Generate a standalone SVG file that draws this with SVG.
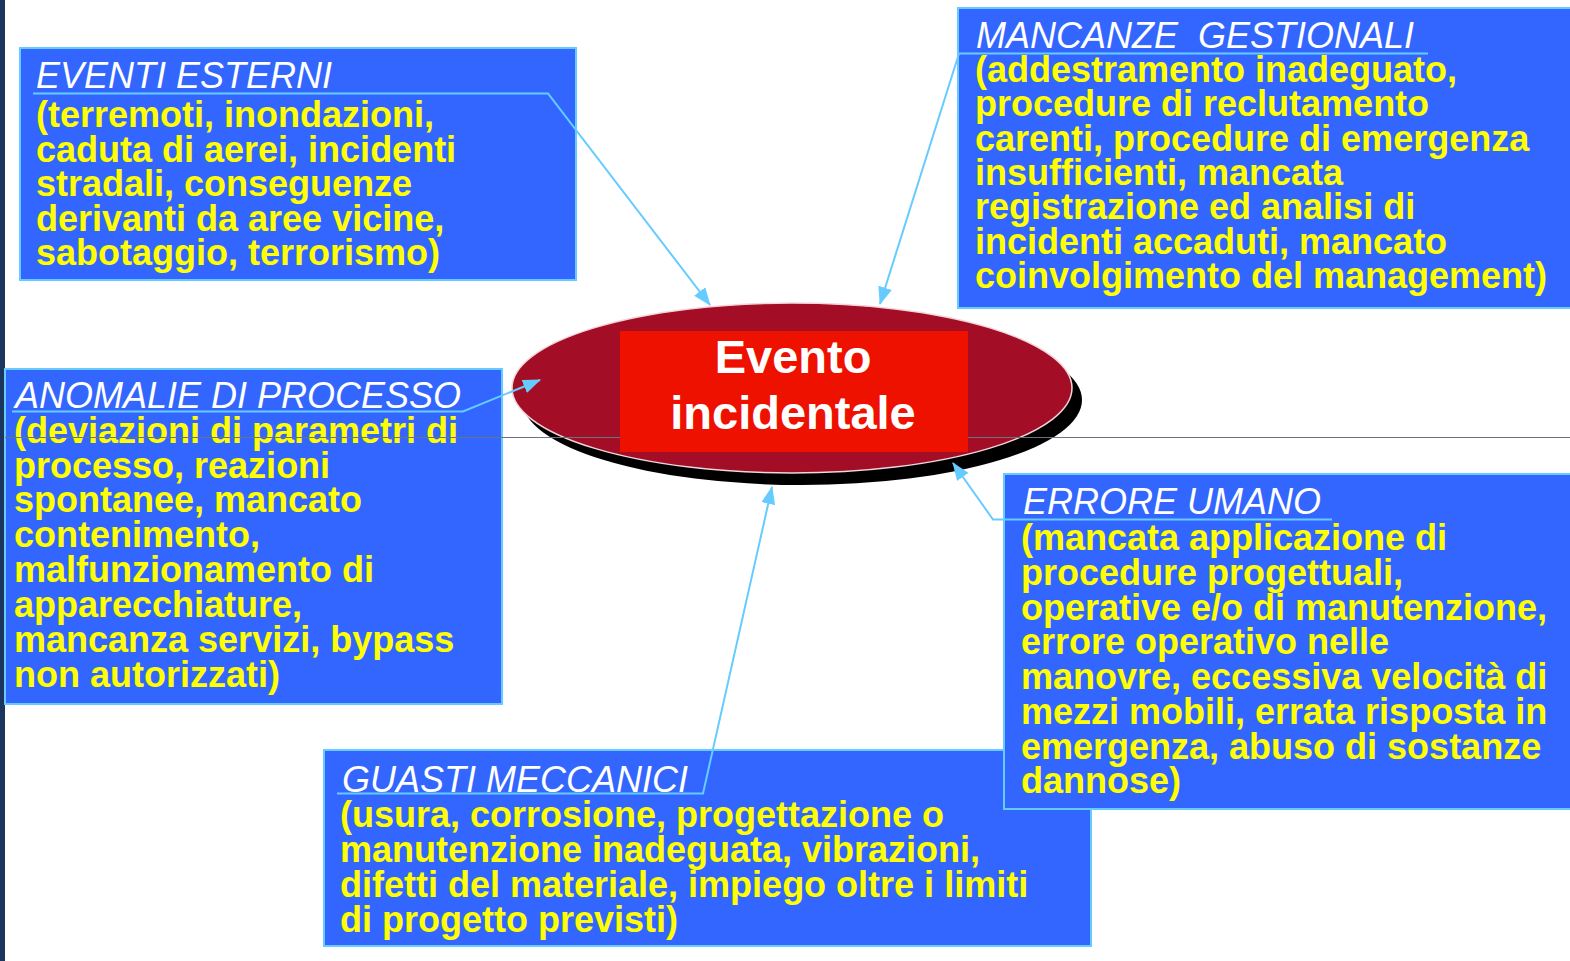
<svg xmlns="http://www.w3.org/2000/svg" width="1570" height="961" viewBox="0 0 1570 961">
  <style>
    .box { fill: #3366FF; stroke: #66CCFF; stroke-width: 2; }
    .title { font-family: "Liberation Sans", Arial, sans-serif; font-size: 36px; font-style: italic; fill: #FFFFFF; white-space: pre; }
    .body { font-family: "Liberation Sans", Arial, sans-serif; font-size: 36px; font-weight: bold; fill: #FFFF00; }
    .conn { fill: none; stroke: #66CCFF; stroke-width: 2; marker-end: url(#arrow); }
    .center { font-family: "Liberation Sans", Arial, sans-serif; font-size: 47px; font-weight: bold; fill: #FFFFFF; text-anchor: middle; }
  </style>
  <defs>
    <marker id="arrow" viewBox="0 0 18 14" refX="17" refY="7" markerWidth="18" markerHeight="14" markerUnits="userSpaceOnUse" orient="auto">
      <path d="M0,0 L18,7 L0,14 z" fill="#66CCFF"/>
    </marker>
  </defs>
  <rect x="0" y="0" width="1570" height="961" fill="#FFFFFF"/>
  <rect x="0" y="0" width="5" height="961" fill="#1C355E"/>

  <g id="eventi-esterni">
    <rect class="box" x="20" y="48" width="556" height="232"/>
    <text class="title" x="36" y="88">EVENTI ESTERNI</text>
    <text class="body" x="36" y="127">(terremoti, inondazioni,</text>
    <text class="body" x="36" y="161.5">caduta di aerei, incidenti</text>
    <text class="body" x="36" y="196">stradali, conseguenze</text>
    <text class="body" x="36" y="230.5">derivanti da aree vicine,</text>
    <text class="body" x="36" y="265">sabotaggio, terrorismo)</text>
  </g>

  <g id="mancanze-gestionali">
    <rect class="box" x="958" y="8" width="620" height="300"/>
    <text class="title" x="976" y="48">MANCANZE  GESTIONALI</text>
    <text class="body" x="975" y="81.7">(addestramento inadeguato,</text>
    <text class="body" x="975" y="116.1">procedure di reclutamento</text>
    <text class="body" x="975" y="150.6">carenti, procedure di emergenza</text>
    <text class="body" x="975" y="185">insufficienti, mancata</text>
    <text class="body" x="975" y="219.4">registrazione ed analisi di</text>
    <text class="body" x="975" y="253.9">incidenti accaduti, mancato</text>
    <text class="body" x="975" y="288.3">coinvolgimento del management)</text>
  </g>

  <g id="anomalie-di-processo">
    <rect class="box" x="5" y="369" width="497" height="335"/>
    <text class="title" x="15" y="408">ANOMALIE DI PROCESSO</text>
    <text class="body" x="14" y="442.7">(deviazioni di parametri di</text>
    <text class="body" x="14" y="477.6">processo, reazioni</text>
    <text class="body" x="14" y="512.4">spontanee, mancato</text>
    <text class="body" x="14" y="547.3">contenimento,</text>
    <text class="body" x="14" y="582.1">malfunzionamento di</text>
    <text class="body" x="14" y="617">apparecchiature,</text>
    <text class="body" x="14" y="651.9">mancanza servizi, bypass</text>
    <text class="body" x="14" y="686.7">non autorizzati)</text>
  </g>

  <g id="guasti-meccanici">
    <rect class="box" x="324" y="750" width="767" height="196"/>
    <text class="title" x="342" y="792">GUASTI MECCANICI</text>
    <text class="body" x="340" y="827.3">(usura, corrosione, progettazione o</text>
    <text class="body" x="340" y="862.1">manutenzione inadeguata, vibrazioni,</text>
    <text class="body" x="340" y="896.9">difetti del materiale, impiego oltre i limiti</text>
    <text class="body" x="340" y="931.7">di progetto previsti)</text>
  </g>

  <g id="errore-umano">
    <rect class="box" x="1004" y="474" width="574" height="335"/>
    <text class="title" x="1023" y="514">ERRORE UMANO</text>
    <text class="body" x="1021" y="550">(mancata applicazione di</text>
    <text class="body" x="1021" y="584.8">procedure progettuali,</text>
    <text class="body" x="1021" y="619.5">operative e/o di manutenzione,</text>
    <text class="body" x="1021" y="654.3">errore operativo nelle</text>
    <text class="body" x="1021" y="689">manovre, eccessiva velocità di</text>
    <text class="body" x="1021" y="723.8">mezzi mobili, errata risposta in</text>
    <text class="body" x="1021" y="758.6">emergenza, abuso di sostanze</text>
    <text class="body" x="1021" y="793.3">dannose)</text>
  </g>

  <g id="evento-incidentale">
    <ellipse cx="802" cy="400" rx="280" ry="85" fill="#000000"/>
    <ellipse cx="792" cy="388" rx="280" ry="85" fill="#A30D26" stroke="#F2D6DA" stroke-width="1.5"/>
    <line x1="5" y1="437.5" x2="1570" y2="437.5" stroke="#6B7280" stroke-width="1"/>
    <rect x="620" y="331" width="348" height="121" fill="#EE1100"/>
    <text class="center" x="793" y="373">Evento</text>
    <text class="center" x="793" y="429">incidentale</text>
  </g>

  <g id="connectors">
    <path class="conn" d="M33,93.5 H548 L710,305"/>
    <path class="conn" d="M1428,53.5 H959 L880,304"/>
    <path class="conn" d="M12,411.5 H463 L540,380"/>
    <path class="conn" d="M337,793.5 H703 L772,487"/>
    <path class="conn" d="M1332,519.5 H993 L953,463"/>
  </g>
</svg>
